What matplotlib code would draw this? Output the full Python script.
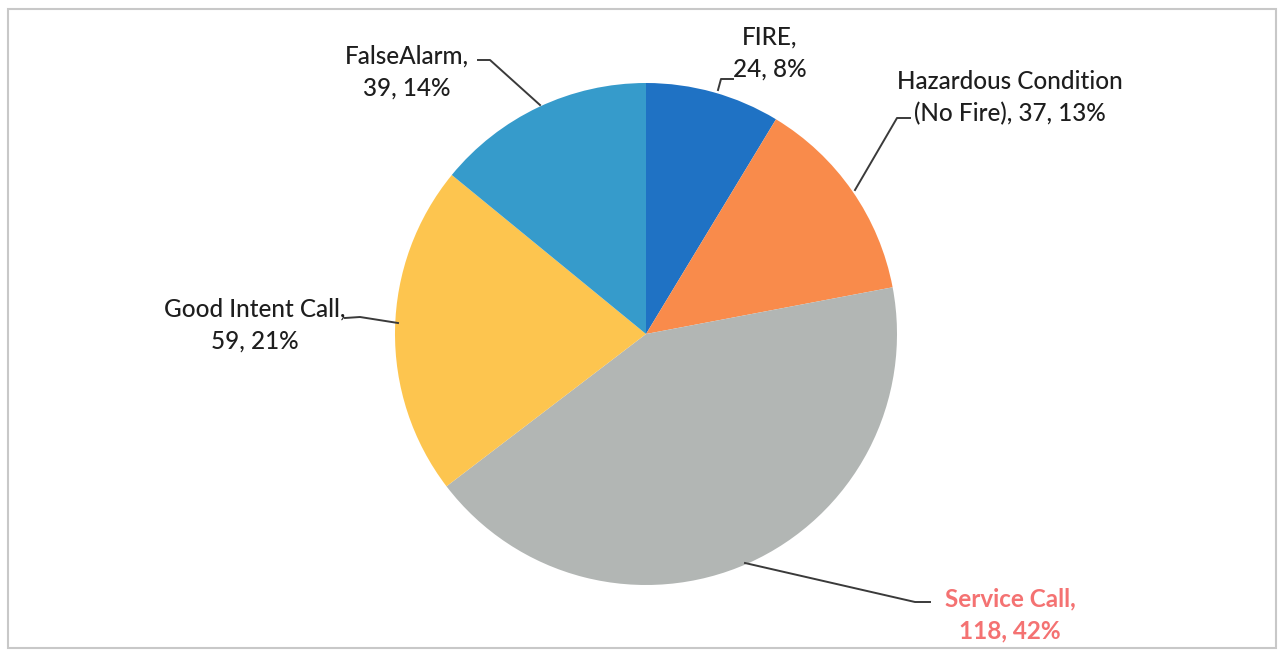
import matplotlib
matplotlib.use('Agg')
import matplotlib.pyplot as plt
from matplotlib.patches import Rectangle

# incident types (clockwise from 12 o'clock)
categories = ['FIRE', 'Hazardous Condition (No Fire)', 'Service Call', 'Good Intent Call', 'False Alarm']
counts = [24, 37, 118, 59, 39]
label_texts = ['FIRE,\n24, 8%',
               'Hazardous Condition\n(No Fire), 37, 13%',
               'Service Call,\n118, 42%',
               'Good Intent Call,\n59, 21%',
               'FalseAlarm,\n39, 14%']
colors = ['#1f72c4', '#f98b4b', '#b2b6b4', '#fdc54f', '#369bcb']

W, H = 1281, 652
plt.rcParams['font.family'] = ['Lato', 'DejaVu Sans']

fig = plt.figure(figsize=(W / 100, H / 100), dpi=100)
ax = fig.add_axes([0, 0, 1, 1])

cx, cy, r = 646, H - 334, 251
ax.pie(counts, colors=colors, startangle=90, counterclock=False,
       center=(cx, cy), radius=r, frame=True,
       wedgeprops=dict(linewidth=0))
ax.set_xlim(0, W)
ax.set_ylim(0, H)
ax.axis('off')

# label positions (pixel space, y from top) and leader paths
def P(x, y):
    return (x, H - y)

lab_pos = [P(770, 53), P(1010, 98), P(1010, 615), P(255, 325), P(407, 72)]
leaders = [
    [P(718, 90), P(721, 79), P(733, 79)],
    [P(855, 190), P(897, 118), P(910, 118)],
    [P(745, 563), P(915, 602), P(930, 602)],
    [P(398, 323), P(360, 317), P(345, 318)],
    [P(540, 105), P(490, 60), P(478, 60)],
]
txt_colors = ['#1e1e1e', '#1e1e1e', '#f47272', '#1e1e1e', '#1e1e1e']
weights = ['medium', 'medium', 'bold', 'medium', 'medium']

for t, pos, c, w in zip(label_texts, lab_pos, txt_colors, weights):
    ax.text(pos[0], pos[1], t, ha='center', va='center', fontsize=17.5,
            color=c, fontweight=w, linespacing=1.45)

for pts in leaders:
    xs = [p[0] for p in pts]
    ys = [p[1] for p in pts]
    ax.plot(xs, ys, color='#3a3a3a', lw=1.4)

# chart border
fig.patches.append(Rectangle((8 / W, (H - 648) / H), 1268 / W, 639 / H,
                             transform=fig.transFigure, fill=False,
                             edgecolor='#c8c8c8', linewidth=1.5))

fig.savefig('out.png', dpi=100)
